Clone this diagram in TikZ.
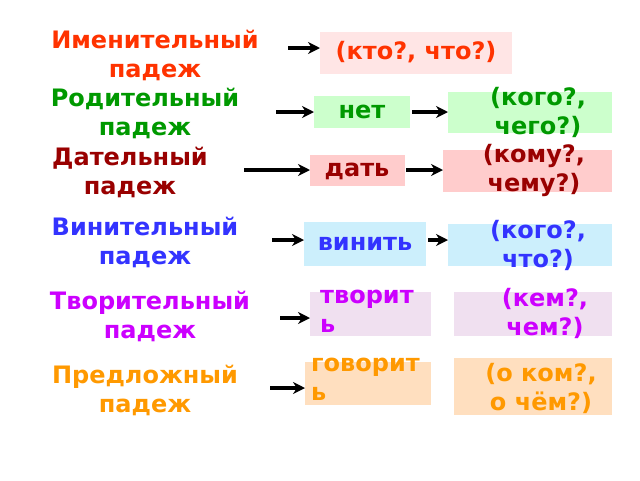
\documentclass[tikz,border=0pt]{standalone}
\usepackage{fontspec}
\setmainfont{DejaVu Sans}
\usetikzlibrary{arrows.meta}
\definecolor{cr}{HTML}{FF3300}\definecolor{cg}{HTML}{009900}\definecolor{cd}{HTML}{990000}
\definecolor{cb}{HTML}{3333FF}\definecolor{cm}{HTML}{CC00FF}\definecolor{co}{HTML}{FF9900}
\begin{document}
\begin{tikzpicture}[x=1pt,y=-1pt,
 lab/.style={font=\bfseries\fontsize{24}{29}\selectfont,align=center,inner sep=0},
 bx/.style={font=\bfseries\fontsize{24}{29}\selectfont,align=left,inner sep=0,anchor=north west},
 ar/.style={line width=3.5pt,-{Stealth[length=12pt,width=12pt]}}]
\useasboundingbox[fill=white] (0,0) rectangle (640,480);
% row1
\node[lab,text=cr] (l1) at (155,55) {Именительный\\падеж};
\fill[red!10] (320,32) rectangle (512,74);
\node[lab,text=cr] (b1) at (416,52) {(кто?, что?)};
\coordinate (s1) at (288,48); \coordinate (e1) at (320,48);
\draw[ar] (s1) -- (e1);
% row2
\node[lab,text=cg] (l2) at (145,113) {Родительный\\падеж};
\fill[green!20] (314,96) rectangle (410,128);
\node[lab,text=cg] (a2) at (362,112) {нет};
\fill[green!20] (448,92) rectangle (612,133);
\node[lab,text=cg] (b2) at (538,112) {(кого?,\\чего?)};
\coordinate (s2) at (276,112); \coordinate (e2) at (314,112);
\draw[ar] (s2) -- (e2);
\draw[ar] (412,112) -- (448,112);
% row3
\node[lab,text=cd] (l3) at (130,172) {Дательный\\падеж};
\fill[red!20] (310,155) rectangle (405,186);
\node[lab,text=cd] (a3) at (357,171) {дать};
\fill[red!20] (443,150) rectangle (612,192);
\node[lab,text=cd] (b3) at (534,170) {(кому?,\\чему?)};
\coordinate (s3) at (244,170); \coordinate (e3) at (310,170);
\draw[ar] (s3) -- (e3);
\draw[ar] (406,170) -- (443,170);
% row4
\node[lab,text=cb] (l4) at (145,242) {Винительный\\падеж};
\fill[cyan!20] (304,222) rectangle (426,266);
\node[lab,text=cb] (a4) at (365,244) {винить};
\fill[cyan!20] (448,224) rectangle (612,266);
\node[lab,text=cb] (b4) at (538,245) {(кого?,\\что?)};
\coordinate (s4) at (272,240); \coordinate (e4) at (304,240);
\draw[ar] (s4) -- (e4);
\draw[ar] (428,240) -- (448,240);
% row5
\node[lab,text=cm] (l5) at (150,316) {Творительный\\падеж};
\fill[violet!12] (310,292) rectangle (431,336);
\node[bx,text=cm] (a5) at (320,290) {творит\\ь};
\fill[violet!12] (454,292) rectangle (612,336);
\node[lab,text=cm] (b5) at (545,313) {(кем?,\\чем?)};
\coordinate (s5) at (280,318); \coordinate (e5) at (310,318);
\draw[ar] (s5) -- (e5);
% row6
\node[lab,text=co] (l6) at (145,390) {Предложный\\падеж};
\fill[orange!25] (305,362) rectangle (431,405);
\node[bx,text=co] (a6) at (311,358) {говорит\\ь};
\fill[orange!25] (454,358) rectangle (612,415);
\node[lab,text=co] (b6) at (541,388) {(о ком?,\\о чём?)};
\coordinate (s6) at (270,388); \coordinate (e6) at (305,388);
\draw[ar] (s6) -- (e6);
\end{tikzpicture}
\end{document}
